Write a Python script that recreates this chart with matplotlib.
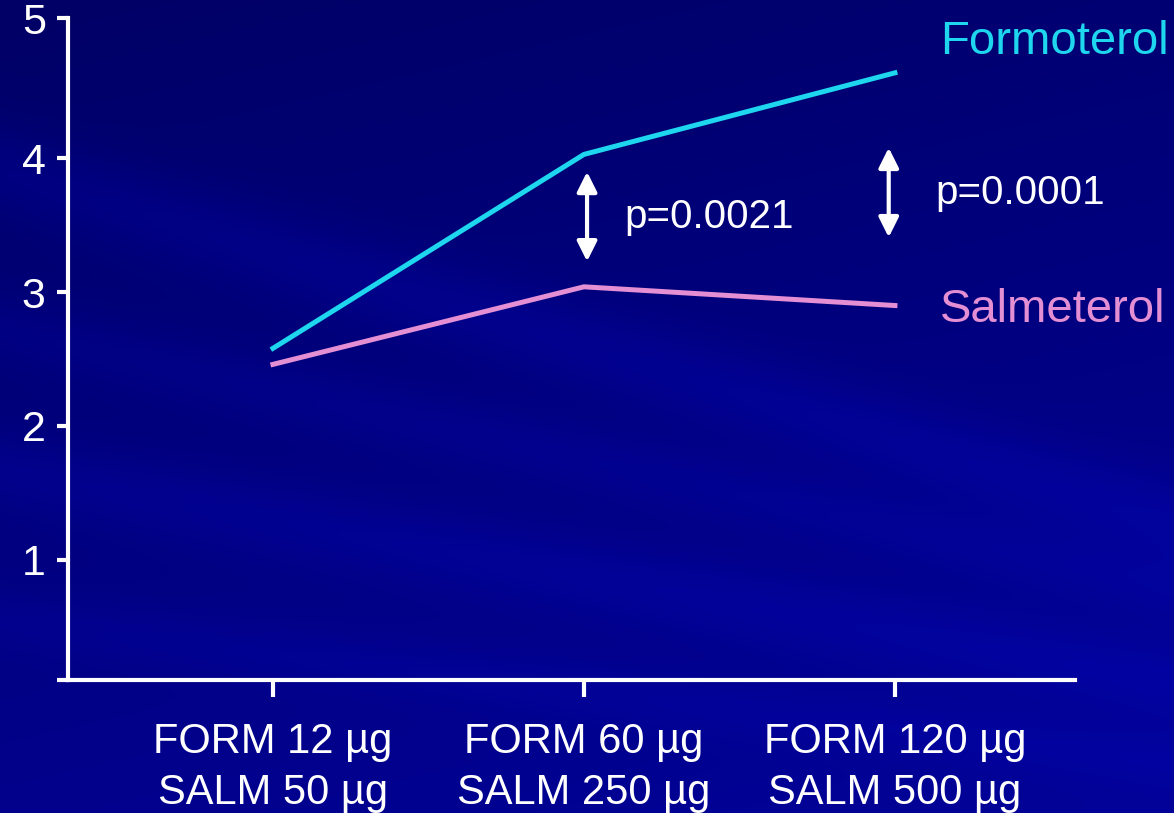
import numpy as np
import matplotlib
matplotlib.use("Agg")
import matplotlib.pyplot as plt

# dose pairs on the x axis
doses = ["FORM 12 µg\nSALM 50 µg", "FORM 60 µg\nSALM 250 µg", "FORM 120 µg\nSALM 500 µg"]
formoterol = [2.58, 4.03, 4.64]
salmeterol = [2.46, 3.04, 2.90]
p_labels = ["p=0.0021", "p=0.0001"]

plt.rcParams["font.family"] = ["Liberation Sans", "DejaVu Sans"]

W, H = 1174, 813
fig = plt.figure(figsize=(W / 100, H / 100), dpi=100)

# slide background: dark blue gradient with soft diagonal light streaks
bg = fig.add_axes([0, 0, 1, 1], zorder=-10)
yy, xx = np.mgrid[0:H, 0:W].astype(float)
base = 0.40 + 0.15 * (yy / H) + 0.05 * (xx / W)
for y0, slope, sig, amp in [(170, 0.30, 45, 0.07), (330, 0.22, 35, 0.05),
                            (470, 0.18, 40, 0.06), (620, 0.12, 30, 0.04)]:
    d = yy - (y0 + slope * xx)
    base += amp * np.exp(-(d / sig) ** 2)
img = np.zeros((H, W, 3))
img[..., 0] = 0.06 * np.clip(base - 0.45, 0, 1)
img[..., 1] = 0.06 * np.clip(base - 0.45, 0, 1)
img[..., 2] = np.clip(base, 0, 1)
bg.imshow(img, aspect="auto", interpolation="bilinear")
bg.axis("off")

ax = fig.add_axes([68 / W, 1 - 680 / H, (1075 - 68) / W, (680 - 18) / H])
ax.patch.set_alpha(0)

x = np.arange(len(doses))
ax.plot(x, formoterol, color="#1ed6ee", lw=3.6, solid_joinstyle="miter")
ax.plot(x, salmeterol, color="#e48fd4", lw=3.6, solid_joinstyle="miter")

# significance arrows between the curves
for xa, (ytop, ybot), lab, (xt, yt) in [
        (1.01, (3.90, 3.23), p_labels[0], (1.13, 3.56)),
        (1.98, (4.08, 3.41), p_labels[1], (2.13, 3.74))]:
    ax.annotate("", xy=(xa, ytop), xytext=(xa, ybot),
                arrowprops=dict(arrowstyle="<|-|>", color="white", lw=3,
                                mutation_scale=30, shrinkA=0, shrinkB=0))
    ax.text(xt, yt, lab, color="white", fontsize=29, va="center", ha="left")

ax.text(2.145, 4.87, "Formoterol", color="#1ed6ee", fontsize=34,
        va="center", ha="left", clip_on=False)
ax.text(2.145, 2.87, "Salmeterol", color="#e48fd4", fontsize=34,
        va="center", ha="left", clip_on=False)

ax.set_xlim(-0.659, 2.579)
ax.set_ylim(0.1, 5.05)
ax.set_xticks(x)
ax.set_xticklabels(doses, fontsize=30, color="white", linespacing=1.38)
ax.set_yticks([0.1, 1, 2, 3, 4, 5.05])
ax.set_yticklabels(["", "1", "2", "3", "4", "5"], fontsize=31, color="white")
ax.tick_params(axis="x", length=12, width=3, color="white", pad=18)
ax.tick_params(axis="y", length=8, width=3, color="white", pad=8)
for s in ["top", "right"]:
    ax.spines[s].set_visible(False)
for s in ["left", "bottom"]:
    ax.spines[s].set_color("white")
    ax.spines[s].set_linewidth(3)

fig.savefig("out.png", dpi=100)
